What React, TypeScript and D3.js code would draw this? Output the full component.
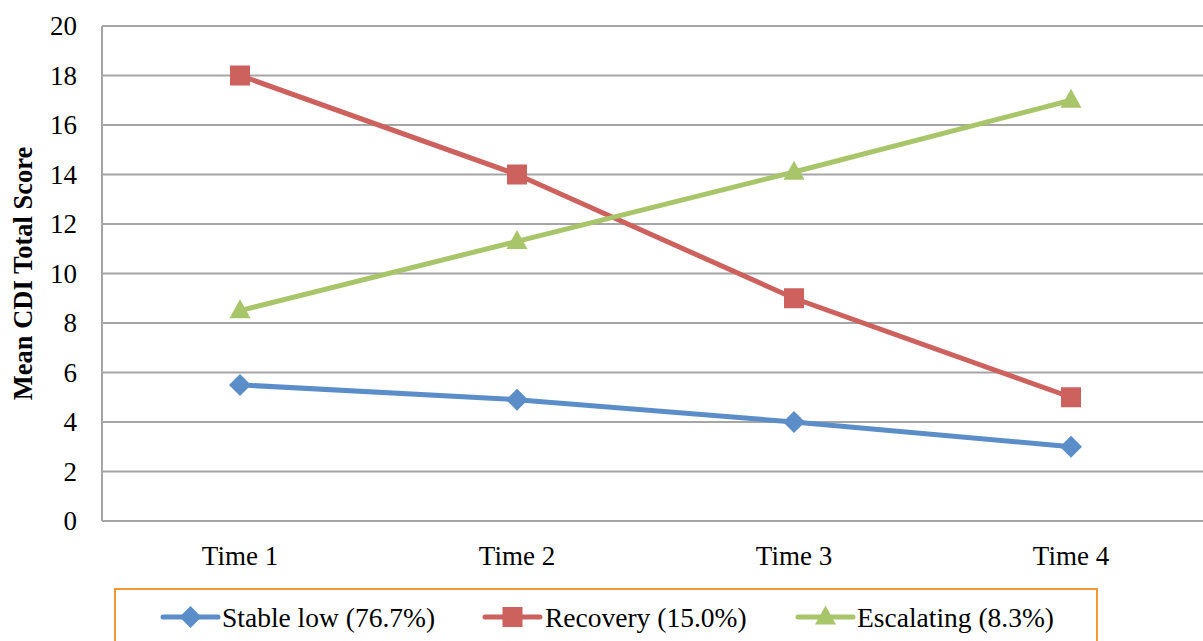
import React from "react";
import * as d3 from "d3";

const categories = ["Time 1", "Time 2", "Time 3", "Time 4"];
const stableLow = [5.5, 4.9, 4.0, 3.0];
const recovery = [18, 14, 9, 5];
const escalating = [8.5, 11.3, 14.1, 17];
const yTicks = [0, 2, 4, 6, 8, 10, 12, 14, 16, 18, 20];
const seriesNames = ["Stable low (76.7%)", "Recovery (15.0%)", "Escalating (8.3%)"];
const yTitle = "Mean CDI Total Score";

const W = 1203;
const H = 641;
const FONT = "'Liberation Serif', 'DejaVu Serif', serif";

const colors = ["#5b8ec8", "#cc615d", "#a8c56a"];
const markers = ["diamond", "square", "triangle"];

function Marker({ type, x, y, color }: { type: string; x: number; y: number; color: string }) {
  if (type === "diamond") {
    const r = 11;
    return <path d={`M${x},${y - r}L${x + r},${y}L${x},${y + r}L${x - r},${y}Z`} fill={color} />;
  }
  if (type === "square") {
    const s = 20;
    return <rect x={x - s / 2} y={y - s / 2} width={s} height={s} fill={color} />;
  }
  const w = 21;
  const h = 19;
  return <path d={`M${x},${y - h * 0.6}L${x + w / 2},${y + h * 0.4}L${x - w / 2},${y + h * 0.4}Z`} fill={color} />;
}

export default function App() {
  const x = d3.scalePoint<string>().domain(categories).range([101.5, 1209.5]).padding(0.5);
  const y = d3.scaleLinear().domain([0, 20]).range([521, 26]);
  const data = [stableLow, recovery, escalating];
  const line = d3
    .line<number>()
    .x((_, i) => x(categories[i]) as number)
    .y((d) => y(d));

  const legendItems = [
    { lx: 163, tx: 222 },
    { lx: 485, tx: 545 },
    { lx: 798, tx: 857 },
  ];

  return (
    <svg
      width={W}
      height={H}
      style={{ position: "absolute", left: 0, top: 0, background: "#fff" }}
      fontFamily={FONT}
    >
      <rect width={W} height={H} fill="#fff" />
      {yTicks.map((t) => (
        <g key={t}>
          <line x1={102} x2={W} y1={y(t)} y2={y(t)} stroke="#a5a5a5" strokeWidth={2} />
          <text x={77} y={y(t)} dy="0.35em" textAnchor="end" fontSize={27} fill="#000">
            {t}
          </text>
        </g>
      ))}
      <line x1={102} x2={102} y1={y(20)} y2={y(0)} stroke="#a5a5a5" strokeWidth={2} />
      {categories.map((c) => (
        <text key={c} x={x(c)} y={565} textAnchor="middle" fontSize={27} fill="#000">
          {c}
        </text>
      ))}
      <text
        transform={`translate(32,${(y(0) + y(20)) / 2}) rotate(-90)`}
        textAnchor="middle"
        fontSize={26.5}
        fontWeight="bold"
        fill="#000"
      >
        {yTitle}
      </text>
      {data.map((s, si) => (
        <g key={si}>
          <path d={line(s) || ""} fill="none" stroke={colors[si]} strokeWidth={5} />
          {s.map((v, i) => (
            <Marker key={i} type={markers[si]} x={x(categories[i]) as number} y={y(v)} color={colors[si]} />
          ))}
        </g>
      ))}
      <rect x={115} y={589} width={982} height={60} fill="none" stroke="#f39638" strokeWidth={2} />
      {legendItems.map((it, i) => (
        <g key={i}>
          <line x1={it.lx} x2={it.lx + 55} y1={617} y2={617} stroke={colors[i]} strokeWidth={5} strokeLinecap="round" />
          <Marker type={markers[i]} x={it.lx + 27.5} y={617} color={colors[i]} />
          <text x={it.tx} y={627} fontSize={27.5} fill="#000">
            {seriesNames[i]}
          </text>
        </g>
      ))}
    </svg>
  );
}
